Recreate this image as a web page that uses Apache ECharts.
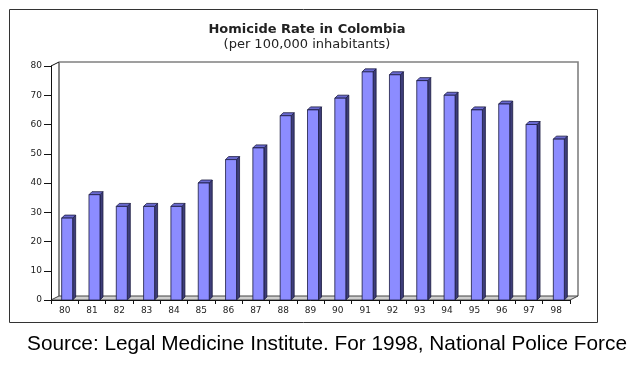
<!DOCTYPE html>
<html><head><meta charset="utf-8">
<script src="https://cdn.jsdelivr.net/npm/echarts@6/dist/echarts.min.js"></script>
<style>html,body{margin:0;padding:0;background:#fff}#c{width:636px;height:375px}</style>
</head><body><div id="c"></div>
<script>
const years = ['80','81','82','83','84','85','86','87','88','89','90','91','92','93','94','95','96','97','98'];
const rates = [28, 36, 32, 32, 32, 40, 48, 52, 63, 65, 69, 78, 77, 75, 70, 65, 67, 60, 55];
const yTicks = [0, 10, 20, 30, 40, 50, 60, 70, 80];
const titleText = 'Homicide Rate in Colombia';
const subtitleText = '(per 100,000 inhabitants)';
const sourceText = 'Source: Legal Medicine Institute. For 1998, National Police Force';

const G = {left: 51, top: 66, right: 570, bottom: 300};
const DX = 8, DY = -4;      // wall depth
const BD = 3;               // bar depth
const BW = 11;              // bar front width
const BSHIFT = 2.5;

const chart = echarts.init(document.getElementById('c'), null, {renderer: 'canvas'});

const graphics = [
  {type: 'rect', shape: {x: 9.5, y: 9.5, width: 588, height: 313}, style: {fill: 'none', stroke: '#333', lineWidth: 1}, z: 0},
  {type: 'rect', shape: {x: G.left + DX, y: G.top + DY, width: G.right - G.left, height: G.bottom - G.top}, style: {fill: '#fff', stroke: null}, z: 0},
  {type: 'polyline', shape: {points: [[G.left + DX, G.bottom + DY], [G.left + DX, G.top + DY]]}, style: {stroke: '#111', lineWidth: 1}, z: 1},
  {type: 'polyline', shape: {points: [[G.left + DX, G.top + DY], [G.right + DX, G.top + DY], [G.right + DX, G.bottom + DY]]}, style: {stroke: '#808080', lineWidth: 1.6}, z: 1},
  {type: 'polygon', shape: {points: [[G.left, G.bottom], [G.left + DX, G.bottom + DY], [G.right + DX, G.bottom + DY], [G.right, G.bottom]]}, style: {fill: '#cfcfcf', stroke: '#444', lineWidth: 1}, z: 1},
  {type: 'line', shape: {x1: G.left, y1: G.top, x2: G.left + DX, y2: G.top + DY}, style: {stroke: '#111', lineWidth: 1}, z: 5}
];

chart.setOption({
  animation: false,
  title: [
    {text: titleText, left: 302, textAlign: 'center', top: 18,
     textStyle: {fontFamily: 'DejaVu Sans', fontWeight: 'bold', fontSize: 13, color: '#222'}},
    {text: subtitleText, left: 302, textAlign: 'center', top: 33,
     textStyle: {fontFamily: 'DejaVu Sans', fontWeight: 'normal', fontSize: 13, color: '#222'}},
    {text: sourceText, left: 322, textAlign: 'center', top: 329,
     textStyle: {fontFamily: 'Liberation Sans', fontWeight: 'normal', fontSize: 20.8, color: '#000'}}
  ],
  graphic: graphics,
  grid: {left: G.left, right: 636 - G.right, top: G.top, bottom: 375 - G.bottom, containLabel: false},
  xAxis: {
    type: 'category', data: years, boundaryGap: true,
    axisLine: {show: true, lineStyle: {color: '#111', width: 1}},
    axisTick: {show: true, alignWithLabel: false, length: 4, lineStyle: {color: '#111'}},
    axisLabel: {margin: 6, fontFamily: 'DejaVu Sans', fontSize: 9, color: '#222'},
    splitLine: {show: false}, z: 6
  },
  yAxis: {
    type: 'value', min: yTicks[0], max: yTicks[yTicks.length - 1], interval: 10,
    axisLine: {show: true, lineStyle: {color: '#111', width: 1}},
    axisTick: {show: true, length: 7, lineStyle: {color: '#111'}},
    axisLabel: {margin: 9, fontFamily: 'DejaVu Sans', fontSize: 9, color: '#222'},
    splitLine: {show: false}, z: 6
  },
  series: [{
    type: 'custom',
    data: rates.map((v, i) => [i, v]),
    z: 4,
    renderItem: function (params, api) {
      const base = api.coord([api.value(0), 0]);
      const top = api.coord([api.value(0), api.value(1)]);
      const x0 = top[0] - BW / 2 + BSHIFT;
      const y0 = top[1], y1 = base[1];
      const line = '#1a1a40';
      return {
        type: 'group',
        children: [
          {type: 'polygon', shape: {points: [[x0 + BW, y0], [x0 + BW + BD, y0 - BD], [x0 + BW + BD, y1 - BD], [x0 + BW, y1]]},
           style: {fill: '#3e3e7a', stroke: line, lineWidth: 0.8}},
          {type: 'polygon', shape: {points: [[x0, y0], [x0 + BD, y0 - BD], [x0 + BW + BD, y0 - BD], [x0 + BW, y0]]},
           style: {fill: '#6a6ad0', stroke: line, lineWidth: 0.8}},
          {type: 'rect', shape: {x: x0, y: y0, width: BW, height: y1 - y0},
           style: {fill: '#8c8cff', stroke: line, lineWidth: 0.8}}
        ]
      };
    }
  }]
});
</script></body></html>
